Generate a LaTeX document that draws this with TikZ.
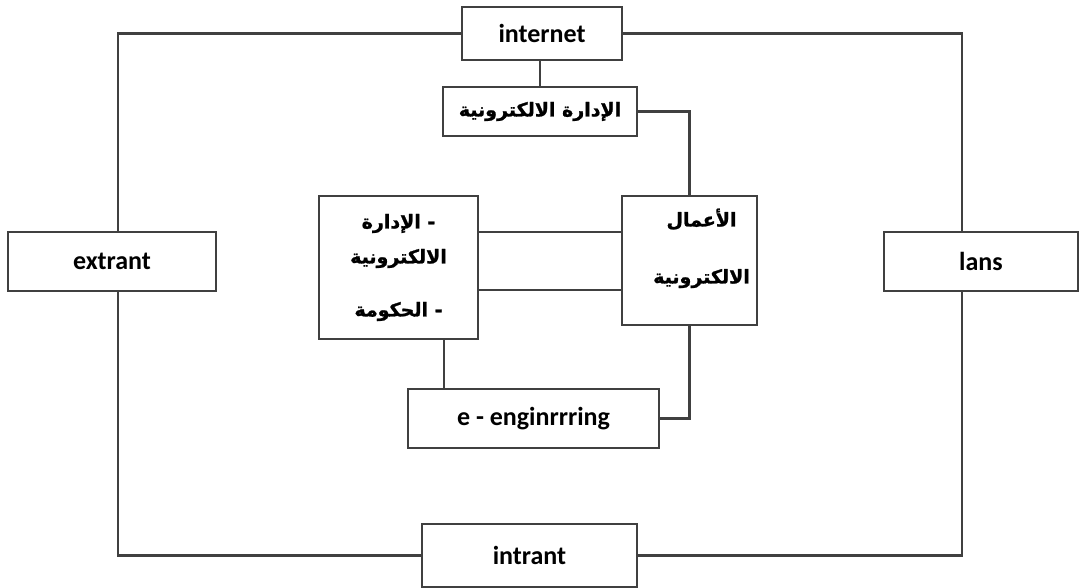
\documentclass[tikz,border=0pt]{standalone}
\usepackage{fontspec}
\setmainfont{Carlito}
\newfontfamily\arabicfont[Script=Arabic, BoldFeatures={FakeBold=1.2}]{DejaVu Sans}
\TeXXeTstate=1
\begin{document}
\begin{tikzpicture}[x=1pt, y=-1pt,
        MyBox/.style={draw=black!75, line width=2.2pt, fill=white, inner sep=0pt, align=center, font=\fontsize{26}{30}\selectfont\bfseries},
        ArText/.style={font=\arabicfont\fontsize{19}{35}\selectfont\bfseries},
        ]
    \useasboundingbox (0,0) rectangle (1081,588);
    \node [MyBox, minimum width=160pt, minimum height=53pt] (internet) at (542,33.5) {internet};
    \node [MyBox, ArText, minimum width=194pt, minimum height=49pt] (emgmt) at (540,111.5) {\beginR الإدارة الالكترونية\endR};
    \node [MyBox, ArText, minimum width=159pt, minimum height=143pt] (egov) at (398.5,267.5)
        {\beginR الإدارة\endR\ -\\ \beginR الالكترونية\endR\\[18pt] \beginR الحكومة\endR\ -};
    \node [MyBox, ArText, minimum width=135pt, minimum height=129pt] (ebiz) at (689.5,260.5)
        {\hspace*{24pt}\beginR الأعمال\endR\\[22pt] \hspace*{24pt}\beginR الالكترونية\endR\\[-6pt]\mbox{}};
    \node [MyBox, minimum width=251pt, minimum height=59pt] (eeng) at (533.5,418.5) {e - enginrrring};
    \node [MyBox, minimum width=208pt, minimum height=59pt] (extrant) at (112,261.5) {extrant};
    \node [MyBox, minimum width=194pt, minimum height=59pt] (lans) at (981,261.5) {lans};
    \node [MyBox, minimum width=215pt, minimum height=63pt] (intrant) at (529.5,555.5) {intrant};
    \begin{scope}[draw=black!75, line width=2.2pt]
        \draw (internet.west) -| ([xshift=6pt]extrant.north);
        \draw ([xshift=6pt]extrant.south) |- (intrant.west);
        \draw (internet.east) -| ([xshift=-19pt]lans.north);
        \draw ([xshift=-19pt]lans.south) |- (intrant.east);
        \draw (emgmt.north) -- (emgmt.north |- internet.south);
        \draw (emgmt.east) -| (ebiz.north);
        \draw ([yshift=35.5pt]egov.east) -- ([yshift=35.5pt]egov.east -| ebiz.west);
        \draw ([yshift=-22.5pt]egov.east) -- ([yshift=-22.5pt]egov.east -| ebiz.west);
        \draw ([xshift=45.5pt]egov.south) -- ([xshift=45.5pt]egov.south |- eeng.north);
        \draw (ebiz.south) |- (eeng.east);
    \end{scope}
\end{tikzpicture}
\end{document}
